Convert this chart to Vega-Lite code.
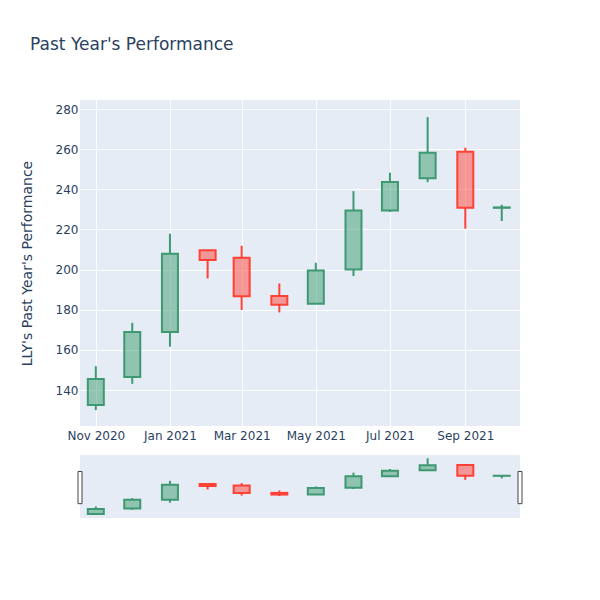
{
  "$schema": "https://vega.github.io/schema/vega-lite/v6.json",
  "padding": {"left": 20, "top": 36, "right": 5, "bottom": 5},
  "background": "white",
  "title": {"text": "Past Year's Performance", "anchor": "start", "fontSize": 17, "fontWeight": "normal", "color": "#2a3f5f", "font": "DejaVu Sans", "offset": 46, "dx": 10},
  "datasets": {
    "prices": [
      {"date": "2020-11-01", "open": 132.5, "high": 151.9, "low": 130.0, "close": 145.5},
      {"date": "2020-12-01", "open": 146.5, "high": 173.5, "low": 143.1, "close": 168.9},
      {"date": "2021-01-01", "open": 168.9, "high": 217.9, "low": 161.6, "close": 207.9},
      {"date": "2021-02-01", "open": 209.6, "high": 209.6, "low": 195.6, "close": 204.8},
      {"date": "2021-03-01", "open": 205.9, "high": 211.9, "low": 179.9, "close": 186.7},
      {"date": "2021-04-01", "open": 186.8, "high": 193.1, "low": 178.7, "close": 182.5},
      {"date": "2021-05-01", "open": 183.0, "high": 203.4, "low": 183.0, "close": 199.6},
      {"date": "2021-06-01", "open": 200.1, "high": 239.1, "low": 196.8, "close": 229.5},
      {"date": "2021-07-01", "open": 229.5, "high": 248.3, "low": 228.7, "close": 243.6},
      {"date": "2021-08-01", "open": 245.5, "high": 276.0, "low": 243.6, "close": 258.2},
      {"date": "2021-09-01", "open": 258.7, "high": 260.7, "low": 220.4, "close": 230.8},
      {"date": "2021-10-01", "open": 230.8, "high": 232.3, "low": 224.2, "close": 231.0}
    ],
    "rangeEnds": [
      {"date": "2020-10-19"},
      {"date": "2021-10-16"}
    ]
  },
  "data": {"name": "prices"},
  "spacing": 14,
  "vconcat": [
    {
      "width": 440,
      "height": 326,
      "encoding": {
        "x": {"field": "date", "type": "temporal", "title": null,
          "scale": {"type": "utc", "padding": 0, "domain": [1603065600000, 1634342400000]},
          "axis": {"labelExpr": "utcFormat(datum.value, '%b %Y')", "labelPadding": 4,
            "values": [1604188800000, 1609459200000, 1614556800000, 1619827200000, 1625097600000, 1630454400000]}}
      },
      "layer": [
        {"transform": [{"filter": "datum.close >= datum.open"}], "mark": {"type": "rule", "color": "#3D9970", "strokeWidth": 2},
         "encoding": {"y": {"field": "high", "type": "quantitative", "scale": {"domain": [122.1, 284.5], "nice": false, "zero": false, "padding": 0},
            "axis": {"values": [140, 160, 180, 200, 220, 240, 260, 280], "labelPadding": 2, "titlePadding": 21}, "title": "LLY's Past Year's Performance"},
           "y2": {"field": "close"}}},
        {"transform": [{"filter": "datum.close >= datum.open"}], "mark": {"type": "rule", "color": "#3D9970", "strokeWidth": 2},
         "encoding": {"y": {"field": "open", "type": "quantitative"}, "y2": {"field": "low"}}},
        {"transform": [{"filter": "datum.close < datum.open"}], "mark": {"type": "rule", "color": "#FF4136", "strokeWidth": 2},
         "encoding": {"y": {"field": "high", "type": "quantitative"}, "y2": {"field": "open"}}},
        {"transform": [{"filter": "datum.close < datum.open"}], "mark": {"type": "rule", "color": "#FF4136", "strokeWidth": 2},
         "encoding": {"y": {"field": "close", "type": "quantitative"}, "y2": {"field": "low"}}},
        {"mark": {"type": "bar", "width": 16, "strokeWidth": 2, "fillOpacity": 0.5},
         "encoding": {"y": {"field": "open", "type": "quantitative"}, "y2": {"field": "close"},
           "fill": {"condition": {"test": "datum.close >= datum.open", "value": "#3D9970"}, "value": "#FF4136"},
           "stroke": {"condition": {"test": "datum.close >= datum.open", "value": "#3D9970"}, "value": "#FF4136"}}}
      ]
    },
    {
      "width": 440,
      "height": 63,
      "encoding": {
        "x": {"field": "date", "type": "temporal", "title": null, "axis": null,
          "scale": {"type": "utc", "padding": 0, "domain": [1603065600000, 1634342400000]}}
      },
      "layer": [
        {"transform": [{"filter": "datum.close >= datum.open"}], "mark": {"type": "rule", "color": "#3D9970", "strokeWidth": 2},
         "encoding": {"y": {"field": "high", "type": "quantitative", "scale": {"domain": [122.1, 284.5], "nice": false, "zero": false, "padding": 0}, "axis": null},
           "y2": {"field": "close"}}},
        {"transform": [{"filter": "datum.close >= datum.open"}], "mark": {"type": "rule", "color": "#3D9970", "strokeWidth": 2},
         "encoding": {"y": {"field": "open", "type": "quantitative"}, "y2": {"field": "low"}}},
        {"transform": [{"filter": "datum.close < datum.open"}], "mark": {"type": "rule", "color": "#FF4136", "strokeWidth": 2},
         "encoding": {"y": {"field": "high", "type": "quantitative"}, "y2": {"field": "open"}}},
        {"transform": [{"filter": "datum.close < datum.open"}], "mark": {"type": "rule", "color": "#FF4136", "strokeWidth": 2},
         "encoding": {"y": {"field": "close", "type": "quantitative"}, "y2": {"field": "low"}}},
        {"mark": {"type": "bar", "width": 16, "strokeWidth": 2, "fillOpacity": 0.5},
         "encoding": {"y": {"field": "open", "type": "quantitative"}, "y2": {"field": "close"},
           "fill": {"condition": {"test": "datum.close >= datum.open", "value": "#3D9970"}, "value": "#FF4136"},
           "stroke": {"condition": {"test": "datum.close >= datum.open", "value": "#3D9970"}, "value": "#FF4136"}}},
        {"data": {"name": "rangeEnds"}, "mark": {"type": "bar", "width": 4, "fill": "white", "fillOpacity": 1, "stroke": "#444", "strokeWidth": 1, "clip": false},
         "encoding": {"y": {"datum": 159}, "y2": {"datum": 242}}}
      ]
    }
  ],
  "config": {
    "font": "DejaVu Sans",
    "view": {"fill": "#E5ECF6", "stroke": null},
    "axis": {"labelColor": "#2a3f5f", "titleColor": "#2a3f5f", "labelFontSize": 12, "titleFontSize": 14, "titleFontWeight": "normal", "domain": false, "ticks": false, "gridColor": "white", "gridWidth": 1, "gridOpacity": 1, "labelFont": "DejaVu Sans", "titleFont": "DejaVu Sans"}
  }
}
